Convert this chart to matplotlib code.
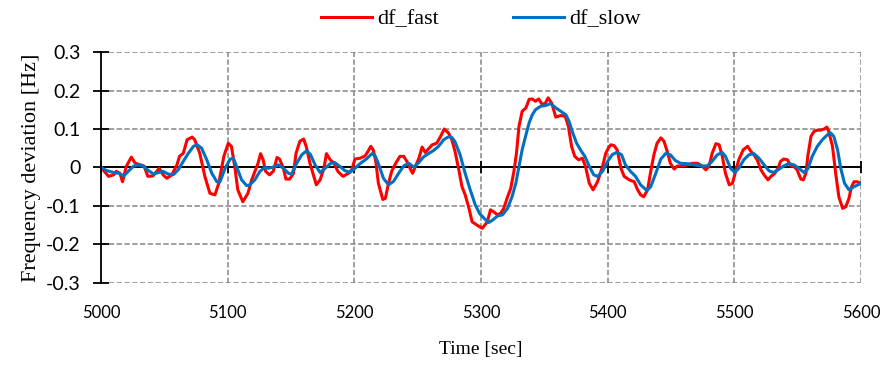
import matplotlib.pyplot as plt

# frequency deviation, fast and slow estimates
t_fast = [5000, 5006, 5010, 5012, 5015, 5017, 5020, 5024, 5027, 5031,
          5034, 5037, 5041, 5046, 5049, 5052, 5056, 5060, 5062, 5065,
          5068, 5072, 5074, 5078, 5082, 5086, 5090, 5093, 5097, 5100.5,
          5103, 5106, 5108, 5112, 5116, 5119, 5121, 5124, 5126, 5128,
          5130, 5133, 5136, 5139, 5141, 5144, 5146, 5149, 5152, 5154,
          5157, 5160, 5162, 5165, 5168, 5170, 5173, 5176, 5178, 5181,
          5184, 5187, 5191, 5195, 5198, 5200.5, 5204.5, 5208.5, 5211, 5213,
          5215, 5217, 5219, 5222.5, 5224.5, 5227, 5229.5, 5232.5, 5236, 5239,
          5241.5, 5244, 5246, 5248, 5251, 5253.5, 5256, 5258.5, 5261.5, 5265,
          5268, 5271, 5274.5, 5277, 5279.5, 5282.5, 5285, 5287.5, 5290.5, 5293,
          5297, 5301, 5305, 5307.5, 5310, 5313, 5315.5, 5318, 5321, 5323.5,
          5326, 5328, 5330, 5332.5, 5335.5, 5338, 5340.5, 5343, 5345.5, 5348.5,
          5351, 5353, 5356, 5359, 5363, 5366.5, 5369, 5371.5, 5374, 5377,
          5380, 5382.5, 5385.5, 5388.5, 5392, 5396, 5398.5, 5401, 5402.5, 5405,
          5407.5, 5410.5, 5413, 5417, 5421, 5423.5, 5426, 5428.5, 5431.5, 5434,
          5436.5, 5439, 5442, 5444.5, 5447, 5449.5, 5452.5, 5455, 5459, 5463,
          5467, 5471, 5474.5, 5477.5, 5480, 5482.5, 5485.5, 5488, 5490.5, 5493,
          5496, 5498.5, 5501, 5503.5, 5507, 5510.5, 5513, 5515.5, 5518, 5521,
          5523.5, 5526.5, 5529, 5532, 5534.5, 5536.5, 5539, 5542, 5544.5, 5547,
          5549.5, 5552.5, 5554.5, 5556.5, 5558, 5560.5, 5563, 5565.5, 5568, 5571,
          5573, 5574.5, 5577.5, 5580, 5582.5, 5585.5, 5588, 5590.5, 5592.5, 5594.5,
          5597, 5600]
df_fast = [0, -0.023, -0.019, -0.010, -0.015, -0.037, 0.003, 0.027, 0.011, 0.007,
           0.004, -0.023, -0.022, -0.002, -0.019, -0.028, -0.019, 0.007, 0.029, 0.037,
           0.072, 0.079, 0.072, 0.037, -0.023, -0.067, -0.071, -0.041, 0.029, 0.063,
           0.055, -0.006, -0.058, -0.089, -0.067, -0.032, -0.015, 0.011, 0.036, 0.020,
           -0.010, -0.019, -0.010, 0.026, 0.022, -0.002, -0.030, -0.030, -0.015, 0.037,
           0.068, 0.074, 0.055, 0.011, -0.023, -0.045, -0.032, -0.002, 0.036, 0.020,
           0.011, -0.010, -0.023, -0.016, -0.006, 0.022, 0.024, 0.030, 0.043, 0.055,
           0.045, 0.015, -0.041, -0.083, -0.080, -0.041, -0.010, 0.010, 0.029, 0.029,
           0.016, -0.002, -0.015, 0.001, 0.024, 0.053, 0.039, 0.048, 0.059, 0.063,
           0.080, 0.100, 0.089, 0.072, 0.042, -0.006, -0.050, -0.071, -0.106, -0.141,
           -0.150, -0.158, -0.141, -0.110, -0.115, -0.123, -0.119, -0.106, -0.076, -0.054,
           -0.010, 0.037, 0.107, 0.146, 0.155, 0.177, 0.178, 0.172, 0.178, 0.163,
           0.168, 0.181, 0.166, 0.131, 0.135, 0.133, 0.107, 0.055, 0.029, 0.020,
           0.024, 0.003, -0.041, -0.058, -0.037, 0.003, 0.037, 0.053, 0.059, 0.057,
           0.046, -0.002, -0.023, -0.032, -0.037, -0.057, -0.071, -0.076, -0.058, -0.010,
           0.033, 0.063, 0.077, 0.068, 0.042, 0.011, -0.004, 0.004, 0.004, 0.007,
           0.011, 0.011, 0.004, -0.006, 0.003, 0.037, 0.062, 0.059, 0.029, -0.015,
           -0.045, -0.041, -0.010, 0.020, 0.046, 0.055, 0.042, 0.033, 0.020, -0.006,
           -0.019, -0.032, -0.023, -0.015, -0.002, 0.016, 0.022, 0.020, 0.004, 0.003,
           -0.006, -0.030, -0.032, -0.015, 0.029, 0.081, 0.094, 0.097, 0.097, 0.100,
           0.105, 0.094, 0.055, -0.015, -0.076, -0.106, -0.102, -0.080, -0.050, -0.037,
           -0.037, -0.041]

t_slow = [5000, 5004.5, 5010, 5014, 5018, 5021.5, 5025.5, 5029.5, 5033.5, 5037.5,
          5041.5, 5045.5, 5049, 5053, 5057, 5061, 5065, 5069, 5073, 5076,
          5079.5, 5083.5, 5087.5, 5091.5, 5094, 5098, 5102, 5104.5, 5107, 5111,
          5115, 5117.5, 5121.5, 5125.5, 5129.5, 5132, 5136, 5140, 5144, 5148,
          5150.5, 5154.5, 5158.5, 5162.5, 5165.5, 5169, 5173, 5177, 5181, 5184.5,
          5188.5, 5192.5, 5196.5, 5200.5, 5204.5, 5209.5, 5214, 5216.5, 5219, 5223,
          5227, 5231, 5235, 5239, 5243, 5247, 5251, 5254.5, 5258.5, 5262.5,
          5266.5, 5270.5, 5274.5, 5277, 5279.5, 5283.5, 5287.5, 5291.5, 5295.5, 5299,
          5302.5, 5306, 5309, 5313, 5317, 5321, 5324.5, 5327.5, 5330, 5332.5,
          5335.5, 5338, 5340.5, 5343, 5347, 5351, 5355, 5359, 5363, 5367,
          5369.5, 5372, 5375.5, 5378.5, 5382, 5385.5, 5389, 5392, 5396, 5400,
          5403.5, 5407.5, 5411, 5414, 5418, 5422, 5426, 5431, 5434, 5438,
          5442, 5446, 5449.5, 5453.5, 5457.5, 5463, 5468, 5473.5, 5478.5, 5482.5,
          5486.5, 5490.5, 5493, 5497, 5500.5, 5503.5, 5507.5, 5511.5, 5515.5, 5519.5,
          5523.5, 5527.5, 5531, 5535.5, 5539, 5543, 5547, 5551, 5555, 5558,
          5561.5, 5565.5, 5569.5, 5573.5, 5576, 5578.5, 5581.5, 5584, 5587, 5590.5,
          5594.5, 5600]
df_slow = [0, -0.008, -0.013, -0.015, -0.022, -0.010, 0.003, 0.007, 0.003, -0.008,
           -0.017, -0.013, -0.010, -0.017, -0.019, -0.006, 0.016, 0.037, 0.055, 0.059,
           0.050, 0.020, -0.015, -0.037, -0.037, -0.002, 0.022, 0.024, 0.003, -0.032,
           -0.047, -0.045, -0.032, -0.010, 0.001, -0.002, 0.001, 0.007, -0.002, -0.015,
           -0.017, 0.011, 0.033, 0.044, 0.033, 0.007, -0.013, -0.002, 0.010, 0.013,
           0.003, -0.008, -0.013, -0.002, 0.010, 0.022, 0.036, 0.030, 0.010, -0.028,
           -0.045, -0.036, -0.015, 0.004, 0.011, 0.001, 0.013, 0.027, 0.036, 0.044,
           0.055, 0.072, 0.080, 0.078, 0.067, 0.033, -0.015, -0.058, -0.097, -0.120,
           -0.132, -0.143, -0.137, -0.126, -0.123, -0.106, -0.076, -0.041, 0.003, 0.046,
           0.085, 0.116, 0.137, 0.150, 0.159, 0.161, 0.166, 0.155, 0.146, 0.137,
           0.120, 0.094, 0.063, 0.046, 0.029, 0.003, -0.019, -0.023, -0.010, 0.016,
           0.033, 0.040, 0.033, 0.007, -0.010, -0.023, -0.045, -0.060, -0.050, -0.015,
           0.022, 0.037, 0.033, 0.018, 0.011, 0.010, 0.007, 0.004, 0.004, 0.016,
           0.033, 0.039, 0.029, -0.002, -0.013, -0.002, 0.020, 0.033, 0.036, 0.024,
           0.007, -0.009, -0.013, -0.004, 0.004, 0.010, 0.007, -0.002, -0.013, -0.004,
           0.029, 0.055, 0.072, 0.085, 0.090, 0.081, 0.046, -0.002, -0.041, -0.058,
           -0.050, -0.041]

x_ticks = [5000, 5100, 5200, 5300, 5400, 5500, 5600]
y_ticks = [-0.3, -0.2, -0.1, 0, 0.1, 0.2, 0.3]
y_labels = ['-0.3', '-0.2', '-0.1', '0', '0.1', '0.2', '0.3']

serif = 'Liberation Serif'
tick_font = 'Lato'

fig = plt.figure(figsize=(8.88, 3.67), dpi=100)
ax = fig.add_axes([0.1137, 0.2289, 0.8559, 0.6294])

ax.plot(t_fast, df_fast, color='#FF0000', lw=2.2, label='df_fast',
        solid_joinstyle='round', zorder=3)
ax.plot(t_slow, df_slow, color='#0070C0', lw=2.2, label='df_slow',
        solid_joinstyle='round', zorder=4)

ax.set_xlim(5000, 5600)
ax.set_ylim(-0.3, 0.3)
ax.set_xticks(x_ticks)
ax.set_yticks(y_ticks)
ax.set_yticklabels(y_labels)

ax.grid(True, color='#858585', lw=1.1, linestyle=(0, (3.5, 1.6)), zorder=0)
ax.set_axisbelow(True)

for side in ['top', 'right', 'bottom']:
    ax.spines[side].set_visible(False)
ax.spines['left'].set_color('black')
ax.spines['left'].set_linewidth(1.3)
ax.spines['left'].set_zorder(5)

ax.tick_params(axis='y', direction='inout', length=11, width=1.3, pad=9,
               labelsize=14, colors='black')
ax.tick_params(axis='x', length=0, pad=16, labelsize=12)
for lab in ax.get_xticklabels() + ax.get_yticklabels():
    lab.set_fontfamily(tick_font)

# zero line with its own tick marks
zero_ax = ax.secondary_xaxis(0.5)
zero_ax.set_xticks(x_ticks)
zero_ax.tick_params(direction='inout', length=9, width=1.3, labelbottom=False,
                    labeltop=False, colors='black')
for side in ['top', 'bottom']:
    zero_ax.spines[side].set_linewidth(1.4)
    zero_ax.spines[side].set_color('black')
zero_ax.set_zorder(2)

ax.set_xlabel('Time [sec]', fontfamily=serif, fontsize=14, labelpad=14)
ax.set_ylabel('Frequency deviation [Hz]', fontfamily=serif, fontsize=16, labelpad=4)

ax.legend(loc='lower center', bbox_to_anchor=(0.5, 1.03), ncol=2, frameon=False,
          prop={'family': serif, 'size': 16}, handlelength=2.3,
          handletextpad=0.25, columnspacing=3.3, borderaxespad=0.3)

fig.savefig('out.png', dpi=100)
